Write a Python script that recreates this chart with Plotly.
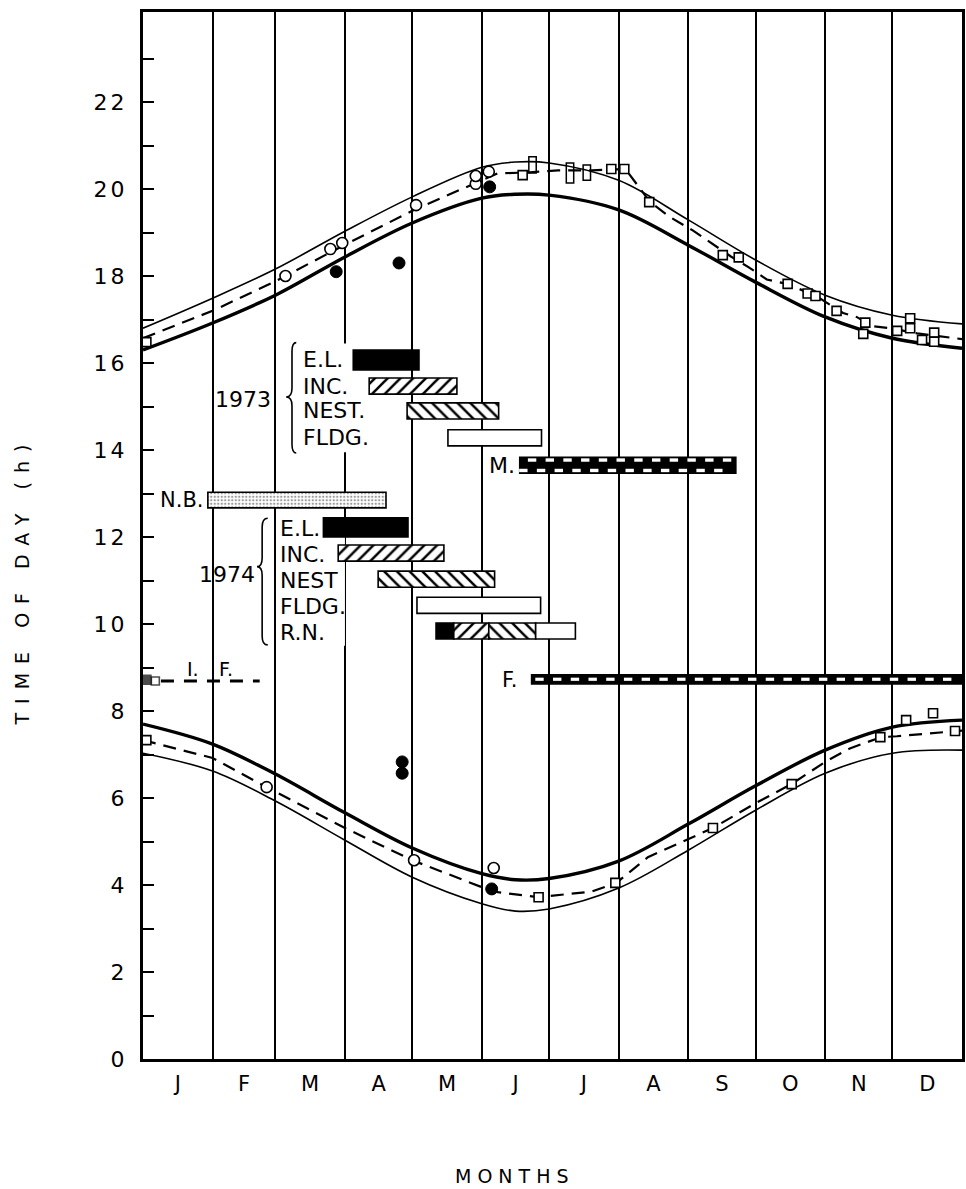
import numpy as np
import plotly.graph_objects as go

# ---------------- data ----------------
MONTHS = ["J", "F", "M", "A", "M", "J", "J", "A", "S", "O", "N", "D"]
MONTH_LEN = [31, 28, 31, 30, 31, 30, 31, 31, 30, 31, 30, 31]
Y_TICKS = list(range(0, 23, 2))

# reference curves (day of year -> hour)
CURVE_DAY = [0, 31, 59, 90, 120, 151, 166, 181, 212, 243, 273, 304, 334, 365]
DUSK_UPPER = [16.80, 17.49, 18.16, 19.03, 19.82, 20.50, 20.62, 20.60, 20.20, 19.29, 18.37, 17.56, 17.10, 16.90]
DUSK_LOWER = [16.30, 16.92, 17.56, 18.44, 19.22, 19.79, 19.88, 19.86, 19.52, 18.71, 17.86, 17.06, 16.57, 16.34]
DAWN_UPPER = [7.70, 7.24, 6.55, 5.66, 4.85, 4.26, 4.12, 4.15, 4.55, 5.40, 6.28, 7.10, 7.63, 7.79]
DAWN_LOWER = [7.03, 6.62, 5.93, 5.03, 4.18, 3.57, 3.40, 3.45, 3.93, 4.80, 5.72, 6.57, 7.03, 7.10]

# dashed mean lines
DUSK_MEAN_DAY = [0, 31, 59, 90, 120, 148, 158, 171, 185, 200, 210, 215, 226, 235, 245, 256, 262, 270, 278,
                 287, 300, 312, 318, 325, 333, 345, 365]
DUSK_MEAN = [16.57, 17.20, 17.88, 18.72, 19.50, 20.12, 20.36, 20.38, 20.43, 20.43, 20.46, 20.46, 19.70, 19.35,
             19.05, 18.67, 18.45, 18.20, 17.92, 17.82, 17.54, 17.15, 17.06, 16.85, 16.80, 16.68, 16.55]
DAWN_MEAN_DAY = [0, 31, 55, 90, 120, 150, 156, 176, 200, 211, 225, 254, 273, 289, 304, 315, 329, 336, 362, 365]
DAWN_MEAN = [7.33, 6.92, 6.25, 5.31, 4.57, 3.98, 3.85, 3.72, 3.85, 4.05, 4.64, 5.31, 5.88, 6.32, 6.83, 7.14,
             7.40, 7.42, 7.54, 7.55]

# observations
SQ_DAY = [1.5, 169.2, 208.7, 214.5, 225.6, 258.4, 265.5, 287.3, 296.2, 299.7, 309.1, 321.9, 321.0, 336.1,
          341.9, 341.9, 347.2, 352.6, 352.6,
          1.5, 176.3, 210.5, 254.0, 289.1, 328.6, 340.1, 352.1, 361.9]
SQ_H = [16.48, 20.32, 20.46, 20.46, 19.70, 18.48, 18.43, 17.82, 17.60, 17.54, 17.20, 16.93, 16.67, 16.74,
        17.03, 16.80, 16.53, 16.70, 16.49,
        7.33, 3.72, 4.05, 5.31, 6.32, 7.40, 7.79, 7.95, 7.54]
OC_DAY = [63.5, 83.5, 88.8, 121.7, 148.3, 148.3, 154.1, 55.1, 120.8, 156.3]
OC_H = [18.00, 18.62, 18.76, 19.63, 20.12, 20.30, 20.40, 6.25, 4.57, 4.39]
FC_DAY = [86.1, 114.1, 154.5, 115.5, 115.5, 155.4]
FC_H = [18.10, 18.30, 20.05, 6.83, 6.57, 3.91]
RANGE_DAY = [173.6, 190.3, 197.8]
RANGE_LOW = [20.37, 20.14, 20.20]
RANGE_HIGH = [20.74, 20.60, 20.55]

# breeding phenology bars (day of year) and rows (hour)
LAB_73 = ["E.L.", "INC.", "NEST.", "FLDG."]
ROW_73 = [16.07, 15.47, 14.90, 14.28]
START_73 = [93.7, 100.8, 117.7, 135.9]
END_73 = [123.0, 139.9, 158.5, 177.6]
LAB_74 = ["E.L.", "INC.", "NEST", "FLDG.", "R.N."]
ROW_74 = [12.22, 11.63, 11.03, 10.43, 9.84]
START_74 = [80.4, 87.0, 104.8, 122.1]
END_74 = [118.1, 134.1, 156.7, 177.2]
RN_EDGES = [130.6, 138.5, 154.1, 175.0, 192.7]
NB_SPAN = [28.9, 108.3]
NB_ROW = 12.85
MOLT_SPAN = [167.9, 264.2]
MOLT_ROW = 13.65
F_SPAN = [173.2, 365.0]
F_ROW = 8.73
IF_SPAN = [8.0, 52.0]
IF_ROW = 8.69

# ---------------- figure ----------------
bounds = np.concatenate([[0], np.cumsum(MONTH_LEN)])
centers = (bounds[:-1] + bounds[1:]) / 2
FONT = "DejaVu Sans, Liberation Sans, Arial, sans-serif"

fig = go.Figure()


def add_line(x, y, width, dash=None, spline=True):
    ln = dict(color="black", width=width)
    if dash:
        ln["dash"] = dash
    if spline:
        ln["shape"] = "spline"
        ln["smoothing"] = 1.0
    fig.add_trace(go.Scatter(x=x, y=y, mode="lines", line=ln, hoverinfo="skip", showlegend=False))


add_line(CURVE_DAY, DUSK_UPPER, 1.6)
add_line(CURVE_DAY, DUSK_LOWER, 3.4)
add_line(CURVE_DAY, DAWN_UPPER, 3.4)
add_line(CURVE_DAY, DAWN_LOWER, 1.6)
add_line(DUSK_MEAN_DAY, DUSK_MEAN, 2.2, dash="13px,8px", spline=False)
add_line(DAWN_MEAN_DAY, DAWN_MEAN, 2.2, dash="13px,8px", spline=False)

# I.F. dashed line
add_line(IF_SPAN, [IF_ROW, IF_ROW], 3.2, dash="13px,10px", spline=False)


def hbar(starts, ends, rows, height, marker):
    fig.add_trace(go.Bar(orientation="h", base=starts, x=[e - s for s, e in zip(starts, ends)], y=rows,
                         width=height, marker=marker, hoverinfo="skip", showlegend=False))


edge = dict(color="black", width=1.6)
solid = dict(color="black", line=edge)
open_ = dict(color="white", line=edge)


def hatch(shape):
    return dict(color="white", line=edge,
                pattern=dict(shape=shape, fgcolor="black", bgcolor="white", size=9, solidity=0.28,
                             fillmode="replace"))


# 1973
hbar([START_73[0]], [END_73[0]], [ROW_73[0]], 0.46, solid)
hbar([START_73[1]], [END_73[1]], [ROW_73[1]], 0.37, hatch("/"))
hbar([START_73[2]], [END_73[2]], [ROW_73[2]], 0.37, hatch("\\"))
hbar([START_73[3]], [END_73[3]], [ROW_73[3]], 0.37, open_)
# 1974
hbar([START_74[0]], [END_74[0]], [ROW_74[0]], 0.44, solid)
hbar([START_74[1]], [END_74[1]], [ROW_74[1]], 0.37, hatch("/"))
hbar([START_74[2]], [END_74[2]], [ROW_74[2]], 0.37, hatch("\\"))
hbar([START_74[3]], [END_74[3]], [ROW_74[3]], 0.37, open_)
# R.N. composite
hbar([RN_EDGES[0]], [RN_EDGES[1]], [ROW_74[4]], 0.37, solid)
hbar([RN_EDGES[1]], [RN_EDGES[2]], [ROW_74[4]], 0.37, hatch("/"))
hbar([RN_EDGES[2]], [RN_EDGES[3]], [ROW_74[4]], 0.37, hatch("\\"))
hbar([RN_EDGES[3]], [RN_EDGES[4]], [ROW_74[4]], 0.37, open_)
# N.B.
hbar([NB_SPAN[0]], [NB_SPAN[1]], [NB_ROW], 0.36,
     dict(color="white", line=edge,
          pattern=dict(shape=".", fgcolor="#9a9a9a", bgcolor="white", size=3.5, solidity=0.35,
                       fillmode="replace")))
# M. and F. (black bars with white checks)
hbar([MOLT_SPAN[0]], [MOLT_SPAN[1]], [MOLT_ROW], 0.37, solid)
hbar([F_SPAN[0]], [F_SPAN[1]], [F_ROW], 0.21, solid)

step = 7.9
top = np.arange(MOLT_SPAN[0] + 5.5, MOLT_SPAN[1] - 1.5, step)
bot = np.arange(MOLT_SPAN[0] + 1.6, MOLT_SPAN[1] - 1.5, step)
fchk = np.arange(F_SPAN[0] + 3.5, F_SPAN[1], step)
check = dict(symbol="line-ew", size=6, line=dict(color="white", width=3.4))
fig.add_trace(go.Scatter(x=np.concatenate([top, bot]),
                         y=[MOLT_ROW + 0.12] * len(top) + [MOLT_ROW - 0.12] * len(bot),
                         mode="markers", marker=check, hoverinfo="skip", showlegend=False))
fig.add_trace(go.Scatter(x=fchk, y=[F_ROW] * len(fchk), mode="markers",
                         marker=dict(symbol="line-ew", size=6, line=dict(color="white", width=3.2)),
                         hoverinfo="skip", showlegend=False))

# range rectangles (tall open boxes)
fig.add_trace(go.Bar(x=RANGE_DAY, y=[h - l for l, h in zip(RANGE_LOW, RANGE_HIGH)], base=RANGE_LOW,
                     width=3.3, marker=dict(color="white", line=dict(color="black", width=1.5)),
                     hoverinfo="skip", showlegend=False))

# observation markers
fig.add_trace(go.Scatter(x=SQ_DAY, y=SQ_H, mode="markers", cliponaxis=False,
                         marker=dict(symbol="square", size=9, color="white",
                                     line=dict(color="black", width=1.6)),
                         hoverinfo="skip", showlegend=False))
fig.add_trace(go.Scatter(x=OC_DAY, y=OC_H, mode="markers",
                         marker=dict(symbol="circle", size=11, color="white",
                                     line=dict(color="black", width=1.6)),
                         hoverinfo="skip", showlegend=False))
fig.add_trace(go.Scatter(x=FC_DAY, y=FC_H, mode="markers",
                         marker=dict(symbol="circle", size=12, color="black",
                                     line=dict(color="black", width=1)),
                         hoverinfo="skip", showlegend=False))
# I.F. start marks
fig.add_trace(go.Scatter(x=[1.5, 5.5], y=[IF_ROW + 0.03, IF_ROW], mode="markers", cliponaxis=False,
                         marker=dict(symbol="square", size=[9, 8], color=["black", "white"],
                                     line=dict(color="black", width=1.6)),
                         hoverinfo="skip", showlegend=False))

# white masks behind label blocks (hide month lines)
for x0, x1, y0, y1 in [(70.0, 93.5, 13.95, 16.45), (59.6, 90.0, 9.5, 12.0)]:
    fig.add_shape(type="rect", xref="x", yref="y", x0=x0, x1=x1, y0=y0, y1=y1,
                  fillcolor="white", line=dict(width=0), layer="between")


def brace(xs, ytop, ybot, ytip, w_end, w_tip):
    d = 0.2
    p = (f"M {xs + w_end},{ytop} Q {xs},{ytop} {xs},{ytop - d} "
         f"L {xs},{ytip + d} Q {xs},{ytip} {xs - w_tip},{ytip} "
         f"Q {xs},{ytip} {xs},{ytip - d} L {xs},{ybot + d} Q {xs},{ybot} {xs + w_end},{ybot}")
    fig.add_shape(type="path", path=p, xref="x", yref="y", line=dict(color="black", width=1.6))


brace(66.4, 16.47, 13.93, 15.22, 1.9, 2.6)
brace(53.1, 12.43, 9.52, 11.32, 2.5, 2.3)


def label(x, y, text, anchor="left", size=22):
    fig.add_annotation(x=x, y=y, xref="x", yref="y", text=text, showarrow=False, xanchor=anchor,
                       yanchor="middle", font=dict(size=size, family=FONT, color="black"))


for t, r in zip(LAB_73, ROW_73):
    label(70.4, r, t)
for t, r in zip(LAB_74, ROW_74):
    label(60.0, r - 0.03, t)
label(44.4, 15.17, "1973", "center", 22)
label(37.4, 11.15, "1974", "center", 22)
label(27.6, NB_ROW, "N.B.", "right", 21)
label(166.6, MOLT_ROW, "M.", "right", 22)
label(167.6, F_ROW - 0.02, "F.", "right", 21)
label(22.3, 8.96, "I.", "center", 19)
label(37.0, 8.96, "F.", "center", 19)

# axis titles
fig.add_annotation(text='<span style="letter-spacing:9px">TIME OF DAY (h)</span>', textangle=-90,
                   xref="paper", yref="y", x=0, y=11.0, xshift=-121, xanchor="center", yanchor="middle",
                   showarrow=False, font=dict(size=19, family=FONT, color="black"))
fig.add_annotation(text='<span style="letter-spacing:6px">MONTHS</span>', xref="x", yref="paper",
                   x=166.0, y=0, yshift=-117, xanchor="center", yanchor="middle", showarrow=False,
                   font=dict(size=19, family=FONT, color="black"))

ytext = ['<span style="letter-spacing:3px">%d</span>' % v for v in Y_TICKS]

fig.update_layout(
    width=966, height=1189,
    margin=dict(l=143, r=1, t=12, b=130),
    paper_bgcolor="white", plot_bgcolor="white",
    barmode="overlay", showlegend=False,
    font=dict(family=FONT, color="black"),
    xaxis=dict(range=[0, 365], tickvals=list(centers), ticktext=MONTHS, ticks="", showgrid=False,
               zeroline=False, showline=True, linecolor="black", linewidth=3, mirror=True,
               tickfont=dict(size=21, family=FONT, color="black"), ticklabelstandoff=4,
               minor=dict(tickvals=list(bounds), showgrid=True, gridcolor="black", gridwidth=2,
                          ticks="")),
    yaxis=dict(range=[0, 24.07], tickvals=Y_TICKS, ticktext=ytext, ticks="inside",
               ticklen=11, tickwidth=2, tickcolor="black", showgrid=False, zeroline=False,
               showline=True, linecolor="black", linewidth=3, mirror=True,
               tickfont=dict(size=22, family=FONT, color="black"), ticklabelstandoff=8,
               minor=dict(tickvals=list(range(1, 24, 2)), ticks="inside", ticklen=11, tickwidth=2,
                          tickcolor="black", showgrid=False)),
)

fig.write_html("out.html", config={"displayModeBar": False, "staticPlot": True},
               post_script="document.body.style.margin='0px';document.body.style.overflow='hidden';")
